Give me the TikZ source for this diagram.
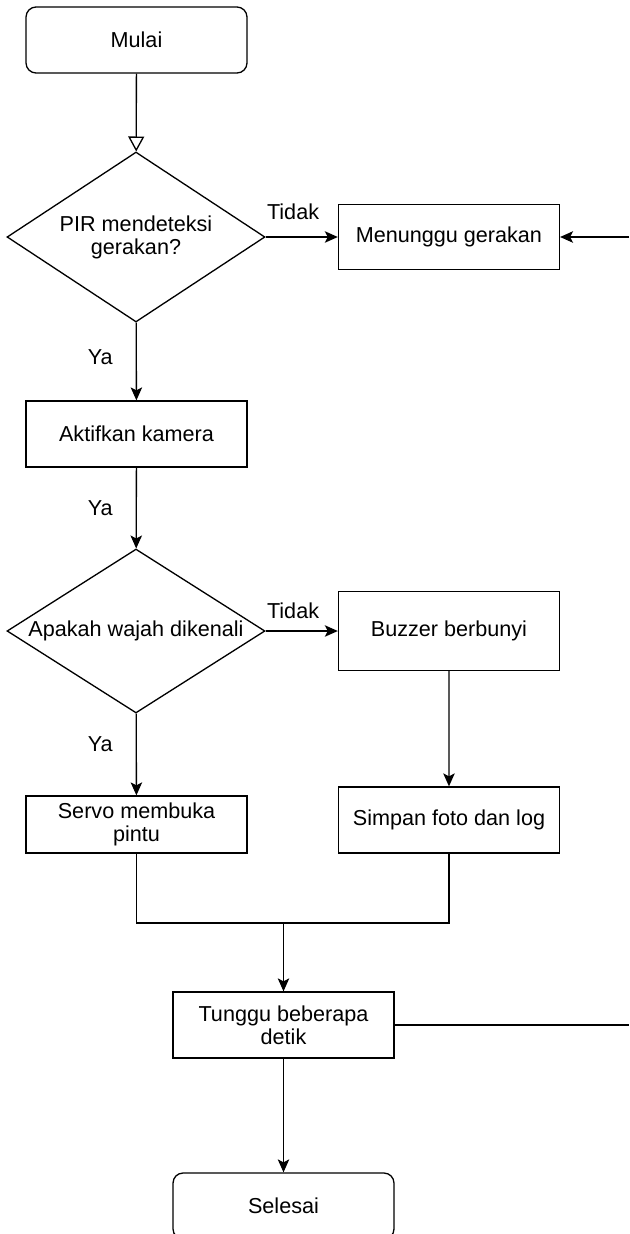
\documentclass[tikz,border=0pt]{standalone}
\usepackage{fontspec}
\setmainfont{Liberation Sans}
\usetikzlibrary{arrows.meta,shapes.geometric,positioning}

\begin{document}
\begin{tikzpicture}[x=0.02cm,y=-0.02cm,line width=0.75pt,font=\fontsize{12.3}{13}\selectfont]
	% Styles for the flowchart blocks, sizes
	\tikzset{node distance=6.26cm, % distance between the two columns
		box/.style={draw,rectangle,minimum width=4.42cm,minimum height=1.32cm,align=center,inner sep=0},
		terminal/.style={box,rounded corners=0.2cm},
		decision/.style={draw,diamond,aspect=1.57,minimum width=5.16cm,minimum height=3.4cm,align=center,inner sep=0},
		lbl/.style={inner sep=0},
		arr/.style={-{Stealth[length=0.26cm,width=0.23cm,inset=0.06cm]}},
	}
	% Fix the page to the size of the reference
	\useasboundingbox (0,0) rectangle (629,1234);
	\node[terminal] (mulai) at (136.5,40) {Mulai};
	\node[decision] (pir) at (136,237) {PIR mendeteksi\\gerakan?};
	% The right column is placed relative to the decisions
	\node[box,right of=pir,minimum height=1.3cm] (menunggu) {Menunggu gerakan};
	\node[box] (aktifkan) at (136.5,434) {Aktifkan kamera};
	\node[decision,minimum height=3.28cm] (wajah) at (136,631) {Apakah wajah dikenali};
	\node[box,right of=wajah,minimum height=1.58cm] (buzzer) {Buzzer berbunyi};
	\node[box,minimum height=1.14cm] (servo) at (136.5,824.5) {Servo membuka\\pintu};
	\node[box] (simpan) at (449,820) {Simpan foto dan log};
	\node[box] (tunggu) at (283.5,1025) {Tunggu beberapa\\detik};
	\node[terminal] (selesai) at (283.5,1206) {Selesai};
	% Points for the joins and for the lines that leave the page
	\coordinate (gabung) at (283.5,923);
	\coordinate (kanan1) at (629,237);
	\coordinate (kanan2) at (629,1025);
	% The first arrow has an open head
	\draw (mulai) edge[-{Triangle[open,length=0.3cm,width=0.32cm]}] (pir);
	\draw (pir) edge[arr] node[lbl,above=0.34cm,pos=0.38]{Tidak} (menunggu);
	\draw (kanan1) edge[arr] (menunggu);
	\draw (pir) edge[arr] node[lbl,left=0.46cm,pos=0.45]{Ya} (aktifkan);
	\draw (aktifkan) edge[arr] node[lbl,left=0.46cm]{Ya} (wajah);
	\draw (wajah) edge[arr] node[lbl,above=0.24cm,pos=0.38]{Tidak} (buzzer);
	\draw (wajah) edge[arr] node[lbl,left=0.46cm,pos=0.37]{Ya} (servo);
	\draw (buzzer) edge[arr] (simpan);
	% Both branches meet before waiting
	\draw (servo) |- (gabung) -| (simpan);
	\draw (gabung) edge[arr] (tunggu);
	\draw (tunggu) -- (kanan2);
	\draw (tunggu) edge[arr] (selesai);
\end{tikzpicture}
\end{document}
